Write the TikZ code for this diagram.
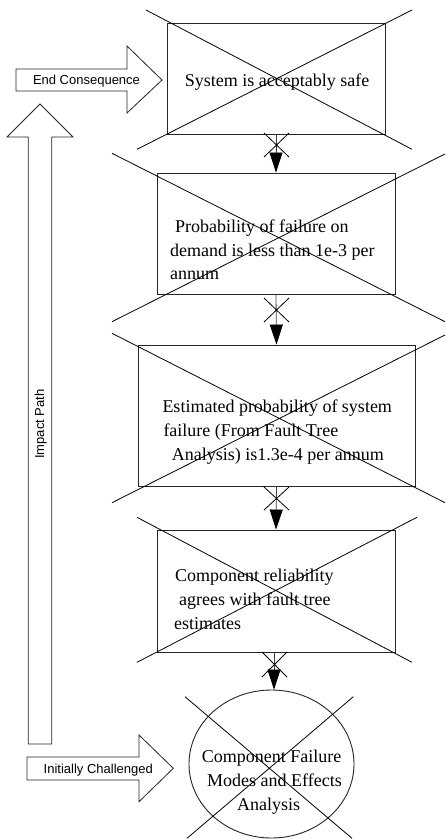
\documentclass[tikz,border=0pt]{standalone}
\usepackage{fontspec}
\setmainfont{Liberation Serif}
\newfontfamily\sansf{Liberation Sans}
\usetikzlibrary{arrows.meta,shapes.geometric}
\tikzset{
  box/.style={draw=black!85, line width=0.9pt, rectangle, inner sep=0pt},
  oval/.style={draw=black!85, line width=0.9pt, ellipse, inner sep=0pt},
  xline/.style={draw=black, line width=0.8pt},
  conn/.style={draw=black!75, line width=0.8pt, -{Triangle[length=20pt,width=13pt,fill=black,color=black]}},
  bigarrow/.style={draw=black!85, line width=0.8pt, fill=white},
  txt/.style={font=\fontsize{18}{24}\selectfont, inner sep=0pt, anchor=base west},
  ctxt/.style={font=\fontsize{18}{24}\selectfont, inner sep=0pt, anchor=base},
  stxt/.style={font=\sansf\fontsize{13}{16}\selectfont, inner sep=0pt, anchor=base}
}
\begin{document}
\begin{tikzpicture}[x=1pt,y=-1pt]
\useasboundingbox (0,0) rectangle (445,839);
% boxes
\node[box, minimum width=218pt, minimum height=111pt] (b1) at (276,78.5) {};
\node[box, minimum width=238pt, minimum height=121pt] (b2) at (276,233.5) {};
\node[box, minimum width=277pt, minimum height=141pt] (b3) at (276.5,415.5) {};
\node[box, minimum width=238pt, minimum height=122pt] (b4) at (276,591) {};
\node[oval, minimum width=165pt, minimum height=148pt] (e5) at (271.5,764) {};
% crosses over boxes
\draw[xline] (146,10) -- (412,149.3) (412,10) -- (137,149.3);
\draw[xline] (112,153.3) -- (445,321.7) (445,154) -- (112,321.7);
\draw[xline] (112,333.3) -- (445,502.7) (112,502.7) -- (445,335);
\draw[xline] (137,517.3) -- (412,662.3) (417,517.3) -- (137,662.3);
\draw[xline] (185,696.7) -- (352,838.3) (353.3,696.7) -- (187,838.3);
% connectors
\draw[conn] (b1.south) -- (b2.north);
\draw[conn] (b2.south) -- (b3.north);
\draw[conn] (b3.south) -- (b4.north);
\draw[conn] ([xshift=-2pt]b4.south) -- ([xshift=-2pt]b4.south |- e5.north);
% crosses on connectors
\draw[xline] (264,133) -- (289,157) (289,133) -- (264,157);
\draw[xline] (264,298) -- (289,322) (289,298) -- (264,322);
\draw[xline] (264,487) -- (289,510) (289,487) -- (264,510);
\draw[xline] (262,652) -- (287,677) (287,652) -- (262,677);
% big hollow arrows
\draw[bigarrow] (16,69) -- (127,69) -- (127,46) -- (162,80) -- (127,113) -- (127,91) -- (16,91) -- cycle;
\draw[bigarrow] (28.3,744) -- (28.3,137) -- (7,137) -- (40,104) -- (73,137) -- (51.7,137) -- (51.7,744) -- cycle;
\draw[bigarrow] (27,757) -- (139,757) -- (139,735) -- (173.3,768.3) -- (139,801.7) -- (139,780) -- (27,780) -- cycle;
\node[stxt] (l1) at (86.5,84.3) {End Consequence};
\node[stxt] (l2) at (98.3,773.3) {Initially Challenged};
\node[stxt, rotate=90] (l3) at (44,424) {Impact Path};
% texts
\node[ctxt] (t1) at (277,86.7) {System is acceptably safe};
\node[txt] (t2a) at (175,232) {Probability of failure on};
\node[txt] (t2b) at (170,256) {demand is less than 1e-3 per};
\node[txt] (t2c) at (170,279.5) {annum};
\node[txt] (t3a) at (162.3,412.7) {Estimated probability of system};
\node[txt] (t3b) at (163.3,436) {failure (From Fault Tree};
\node[txt] (t3c) at (171.7,460) {Analysis) is1.3e-4 per annum};
\node[txt] (t4a) at (175,581) {Component reliability};
\node[txt] (t4b) at (179,605) {agrees with fault tree};
\node[txt] (t4c) at (174,629) {estimates};
\node[ctxt] (t5a) at (271.7,762.3) {Component Failure};
\node[ctxt] (t5b) at (274.5,786) {Modes and Effects};
\node[ctxt] (t5c) at (268.7,810.3) {Analysis};
\end{tikzpicture}
\end{document}
